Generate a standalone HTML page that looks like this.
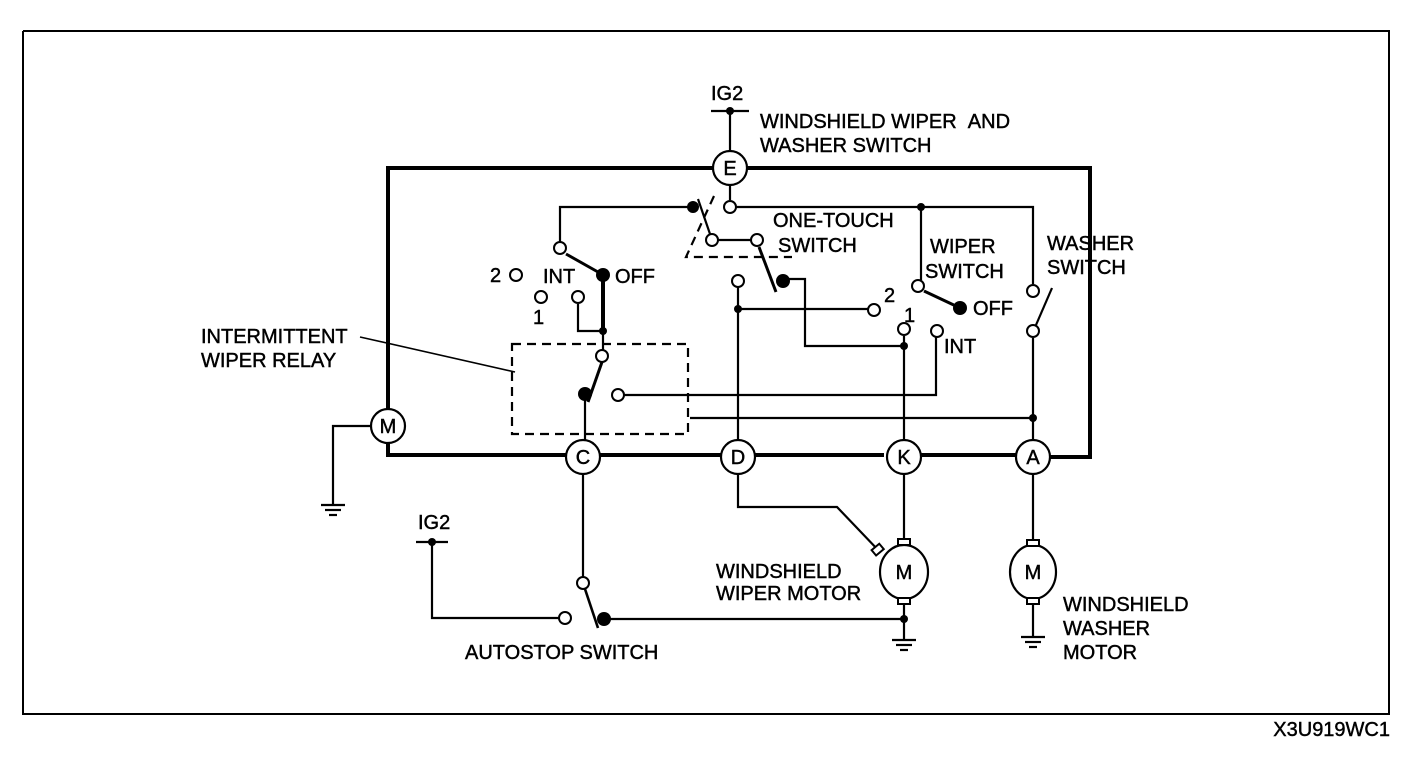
<!DOCTYPE html>
<html><head><meta charset="utf-8"><style>
html,body{margin:0;padding:0;background:#fff;}
svg{display:block;}
text{font-family:"Liberation Sans",Arial,sans-serif;font-size:20px;fill:#000;stroke:#000;stroke-width:0.45;}
</style></head><body>
<svg width="1408" height="762" viewBox="0 0 1408 762" xmlns="http://www.w3.org/2000/svg">
<g fill="none" stroke="#000" stroke-width="2">
<polyline points="23,31 1389,31 1389,714 23,714 23,31"/>
</g>
<g fill="none" stroke="#000" stroke-width="4" stroke-linejoin="miter">
<polyline points="713,168 388,168 388,409"/>
<polyline points="747,168 1090,168 1090,457 1050,457"/>
<polyline points="388,443 388,455 566,455"/>
<line x1="600" y1="455" x2="721" y2="455"/>
<line x1="755" y1="455" x2="884" y2="455"/>
<line x1="918" y1="455" x2="1016" y2="455"/>
<polyline points="603,275 603,331"/>
</g>
<g fill="none" stroke="#000" stroke-width="2.2">
<line x1="711" y1="111" x2="749" y2="111"/>
<line x1="730" y1="111" x2="730" y2="151"/>
<line x1="730" y1="185" x2="730" y2="200"/>
<polyline points="736,207 1033,207 1033,284"/>
<line x1="1033" y1="338" x2="1033" y2="440"/>
<line x1="1036" y1="325" x2="1052" y2="288"/>
<line x1="921" y1="207" x2="921" y2="280"/>
<line x1="924" y1="291" x2="958" y2="307" stroke-width="3"/>
<polyline points="936,337 936,395 624,395"/>
<line x1="738" y1="287" x2="738" y2="440"/>
<line x1="738" y1="309" x2="868" y2="309"/>
<line x1="904" y1="336" x2="904" y2="440"/>
<polyline points="783,279 805,279 805,346 904,346"/>
<polyline points="693,207 560,207 560,242"/>
<line x1="698" y1="199" x2="710" y2="234"/>
<line x1="718" y1="240" x2="751" y2="240"/>
<line x1="759" y1="247" x2="776" y2="292" stroke-width="3"/>
<line x1="566" y1="254" x2="598" y2="272" stroke-width="3"/>
<polyline points="578,304 578,331 603,331 603,350"/>
<line x1="602" y1="362" x2="588" y2="402" stroke-width="3"/>
<line x1="585" y1="394" x2="585" y2="440"/>
<line x1="690" y1="418" x2="1033" y2="418"/>
<line x1="360" y1="337" x2="515" y2="372" stroke-width="1.6"/>
<polyline points="371,426 333,426 333,505"/>
<line x1="321" y1="505" x2="345" y2="505"/>
<line x1="325" y1="510" x2="341" y2="510"/>
<line x1="329" y1="515" x2="337" y2="515"/>
<line x1="583" y1="474" x2="583" y2="577"/>
<line x1="585" y1="589" x2="598" y2="628" stroke-width="2.6"/>
<line x1="604" y1="619" x2="904" y2="619"/>
<polyline points="559,618 432,618 432,542"/>
<line x1="416" y1="542" x2="448" y2="542"/>
<polyline points="738,474 738,507 837,507 880,552"/>
<line x1="904" y1="474" x2="904" y2="540"/>
<line x1="904" y1="603" x2="904" y2="640"/>
<ellipse cx="904" cy="572" rx="24" ry="27"/>
<line x1="892" y1="640" x2="916" y2="640"/>
<line x1="896" y1="645" x2="912" y2="645"/>
<line x1="900" y1="650" x2="908" y2="650"/>
<line x1="1033" y1="474" x2="1033" y2="542"/>
<line x1="1033" y1="602" x2="1033" y2="637"/>
<ellipse cx="1033" cy="572" rx="23" ry="27"/>
<line x1="1021" y1="637" x2="1045" y2="637"/>
<line x1="1025" y1="642" x2="1041" y2="642"/>
<line x1="1029" y1="647" x2="1037" y2="647"/>
</g>
<g fill="#fff" stroke="#000" stroke-width="2">
<rect x="898" y="539" width="12" height="6"/>
<rect x="898" y="598" width="12" height="6"/>
<rect x="1027" y="540" width="12" height="6"/>
<rect x="1027" y="598" width="12" height="6"/>
<rect x="873" y="546" width="10" height="7" transform="rotate(-40 878 550)"/>
</g>
<g fill="none" stroke="#000" stroke-width="2.2" stroke-dasharray="9,6">
<rect x="512" y="344" width="176" height="90"/>
<polyline points="714,196 686,257 792,257"/>
</g>
<g fill="#fff" stroke="#000" stroke-width="2.2">
<circle cx="730" cy="168" r="17"/>
<circle cx="388" cy="426" r="17"/>
<circle cx="583" cy="457" r="17"/>
<circle cx="738" cy="457" r="17"/>
<circle cx="904" cy="457" r="17"/>
<circle cx="1033" cy="457" r="17"/>
</g>
<g fill="#fff" stroke="#000" stroke-width="2">
<circle cx="730" cy="207" r="6"/>
<circle cx="712" cy="240" r="6"/>
<circle cx="757" cy="240" r="6"/>
<circle cx="560" cy="248" r="6"/>
<circle cx="516" cy="275" r="6"/>
<circle cx="541" cy="297" r="6"/>
<circle cx="578" cy="297" r="6"/>
<circle cx="738" cy="281" r="6"/>
<circle cx="918" cy="286" r="6"/>
<circle cx="874" cy="310" r="6"/>
<circle cx="904" cy="329" r="6"/>
<circle cx="937" cy="331" r="6"/>
<circle cx="1033" cy="291" r="6"/>
<circle cx="1033" cy="331" r="6"/>
<circle cx="602" cy="356" r="6"/>
<circle cx="618" cy="395" r="6"/>
<circle cx="583" cy="583" r="6"/>
<circle cx="565" cy="618" r="6"/>
</g>
<g fill="#000">
<circle cx="730" cy="111" r="4"/>
<circle cx="693" cy="207" r="6"/>
<circle cx="921" cy="207" r="4"/>
<circle cx="603" cy="275" r="7"/>
<circle cx="783" cy="281" r="7"/>
<circle cx="960" cy="308" r="7"/>
<circle cx="738" cy="309" r="4"/>
<circle cx="904" cy="346" r="4"/>
<circle cx="603" cy="331" r="4"/>
<circle cx="585" cy="394" r="7"/>
<circle cx="1033" cy="418" r="4"/>
<circle cx="432" cy="542" r="4"/>
<circle cx="604" cy="619" r="7"/>
<circle cx="904" cy="619" r="4"/>
</g>
<g font-size="18">
<text x="730" y="175" text-anchor="middle">E</text>
<text x="388" y="433" text-anchor="middle">M</text>
<text x="583" y="464" text-anchor="middle">C</text>
<text x="738" y="464" text-anchor="middle">D</text>
<text x="904" y="464" text-anchor="middle">K</text>
<text x="1033" y="464" text-anchor="middle">A</text>
<text x="904" y="579" text-anchor="middle">M</text>
<text x="1033" y="579" text-anchor="middle">M</text>
</g>
<text x="711" y="100">IG2</text>
<text x="760" y="128">WINDSHIELD WIPER&#160;&#160;AND</text>
<text x="760" y="152">WASHER SWITCH</text>
<text x="773" y="227">ONE-TOUCH</text>
<text x="778" y="252">SWITCH</text>
<text x="930" y="253">WIPER</text>
<text x="925" y="278">SWITCH</text>
<text x="1047" y="250">WASHER</text>
<text x="1047" y="274">SWITCH</text>
<text x="973" y="315">OFF</text>
<text x="884" y="302" font-size="18">2</text>
<text x="904" y="322" font-size="18">1</text>
<text x="944" y="353">INT</text>
<text x="490" y="282">2</text>
<text x="543" y="283">INT</text>
<text x="615" y="283">OFF</text>
<text x="533" y="324">1</text>
<text x="201" y="343">INTERMITTENT</text>
<text x="201" y="367">WIPER RELAY</text>
<text x="418" y="529">IG2</text>
<text x="716" y="578">WINDSHIELD</text>
<text x="716" y="600">WIPER MOTOR</text>
<text x="1063" y="611">WINDSHIELD</text>
<text x="1063" y="635">WASHER</text>
<text x="1063" y="659">MOTOR</text>
<text x="465" y="659">AUTOSTOP SWITCH</text>
<text x="1390" y="736" font-size="15" text-anchor="end">X3U919WC1</text>
</svg>
</body></html>
